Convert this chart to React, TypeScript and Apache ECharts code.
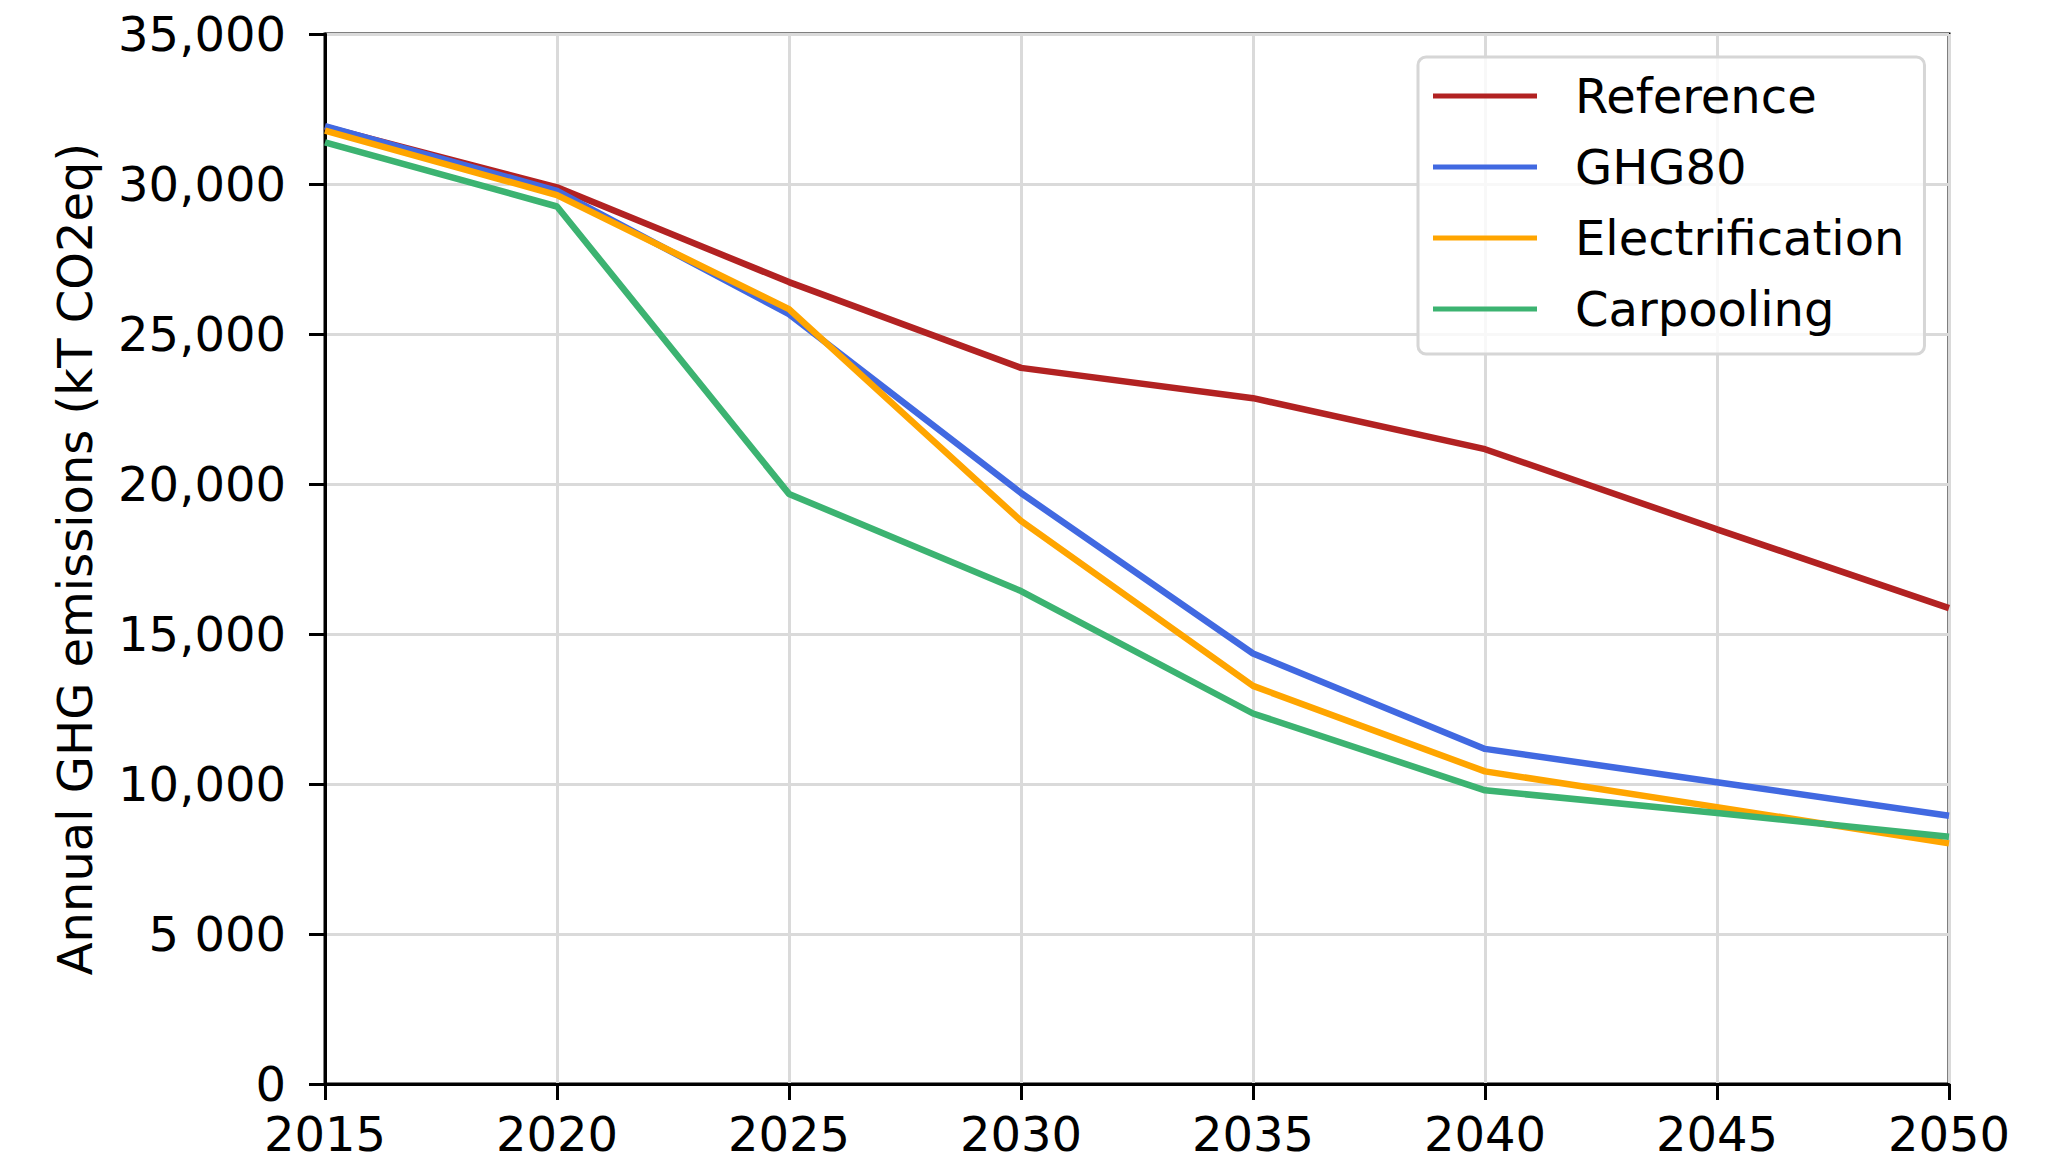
import React, { useEffect, useRef } from "react";
import * as echarts from "echarts";

const years = [2015, 2020, 2025, 2030, 2035, 2040, 2045, 2050];
const seriesNames = ["Reference", "GHG80", "Electrification", "Carpooling"];
const reference = [31900, 29890, 26730, 23870, 22860, 21160, 18490, 15860];
const ghg80 = [31930, 29770, 25660, 19700, 14350, 11170, 10060, 8940];
const electrification = [31780, 29630, 25830, 18770, 13270, 10420, 9230, 8020];
const carpooling = [31390, 29250, 19670, 16430, 12350, 9790, 9030, 8240];
const seriesColors = ["#b22222", "#4169e1", "#ffa500", "#3cb371"];
const yTickValues = [0, 5000, 10000, 15000, 20000, 25000, 30000, 35000];
const yTickLabels = ["0", "5 000", "10,000", "15,000", "20,000", "25,000", "30,000", "35,000"];
const yAxisTitle = "Annual GHG emissions (kT CO2eq)";

const FONT = "DejaVu Sans";
const FS = 48;

export default function App() {
  const ref = useRef<HTMLDivElement>(null);
  useEffect(() => {
    document.body.style.margin = "0";
    if (!ref.current) return;
    const chart = echarts.init(ref.current, null, { renderer: "svg" });
    const allValues = [reference, ghg80, electrification, carpooling];
    chart.setOption({
      animation: false,
      backgroundColor: "#ffffff",
      textStyle: { fontFamily: FONT },
      grid: {
        left: 325,
        top: 34,
        width: 1624,
        height: 1050,
        show: true,
        borderColor: "#000000",
        borderWidth: 3,
        backgroundColor: "transparent",
      },
      legend: {
        orient: "vertical",
        left: 1418,
        top: 57,
        data: seriesNames,
        icon: "rect",
        itemWidth: 104,
        itemHeight: 5,
        itemGap: 21,
        padding: [14, 20, 20, 15],
        backgroundColor: "rgba(255,255,255,0.8)",
        borderColor: "#d6d6d6",
        borderWidth: 3,
        borderRadius: 8,
        itemStyle: { borderWidth: 0 },
        textStyle: {
          fontFamily: FONT,
          fontSize: FS,
          color: "#000000",
          lineHeight: 50,
          padding: [0, 0, 0, 33],
        },
      },
      xAxis: {
        type: "value",
        min: 2015,
        max: 2050,
        interval: 5,
        axisLine: { show: true, lineStyle: { color: "#000", width: 3 } },
        axisTick: { show: true, inside: false, length: 16, lineStyle: { color: "#000", width: 3 } },
        axisLabel: {
          fontFamily: FONT,
          fontSize: FS,
          color: "#000",
          margin: 26,
          formatter: (v: number) => String(v),
        },
        splitLine: { show: true, lineStyle: { color: "#dadada", width: 3 } },
      },
      yAxis: {
        type: "value",
        min: 0,
        max: 35000,
        interval: 5000,
        name: yAxisTitle,
        nameLocation: "middle",
        nameGap: 226,
        nameTextStyle: { fontFamily: FONT, fontSize: FS, color: "#000" },
        axisLine: { show: true, lineStyle: { color: "#000", width: 3 } },
        axisTick: { show: true, inside: false, length: 16, lineStyle: { color: "#000", width: 3 } },
        axisLabel: {
          fontFamily: FONT,
          fontSize: FS,
          color: "#000",
          margin: 39,
          formatter: (v: number) => {
            const i = yTickValues.indexOf(v);
            return i >= 0 ? yTickLabels[i] : String(v);
          },
        },
        splitLine: { show: true, lineStyle: { color: "#dadada", width: 3 } },
      },
      series: seriesNames.map((name, si) => ({
        name,
        type: "line",
        data: years.map((y, i) => [y, allValues[si][i]]),
        showSymbol: false,
        symbol: "none",
        color: seriesColors[si],
        lineStyle: { color: seriesColors[si], width: 6.5 },
        z: 3 + si,
      })),
    });
    return () => chart.dispose();
  }, []);
  return <div ref={ref} style={{ width: 2049, height: 1170 }} />;
}
